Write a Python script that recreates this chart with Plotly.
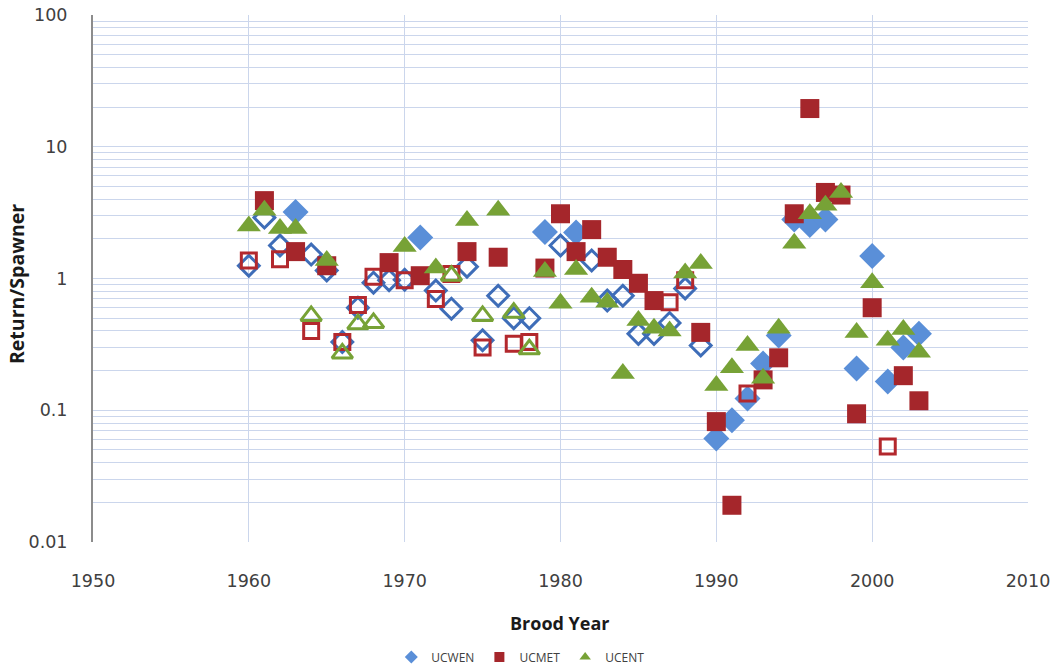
import plotly.graph_objects as go

# Brood year return/spawner ratios; "open" marks hollow (estimated) points
wen_years = [1960, 1961, 1962, 1963, 1964, 1965, 1966, 1967, 1968, 1969, 1970, 1971,
             1972, 1973, 1974, 1975, 1976, 1977, 1978, 1979, 1980, 1981, 1982, 1983,
             1984, 1985, 1986, 1987, 1988, 1989, 1990, 1991, 1992, 1993, 1994, 1995,
             1996, 1997, 1999, 2000, 2001, 2002, 2003]
wen_values = [1.25, 2.9, 1.78, 3.2, 1.52, 1.15, 0.33, 0.6, 0.93, 0.97, 0.98, 2.05,
              0.81, 0.59, 1.23, 0.34, 0.74, 0.50, 0.50, 2.25, 1.78, 2.23, 1.37, 0.68,
              0.74, 0.38, 0.38, 0.46, 0.84, 0.31, 0.061, 0.084, 0.123, 0.226, 0.37, 2.8,
              2.55, 2.8, 0.207, 1.48, 0.165, 0.30, 0.38]
wen_open = [1, 1, 1, 0, 1, 1, 1, 1, 1, 1, 1, 0,
            1, 1, 1, 1, 1, 1, 1, 0, 1, 0, 1, 1,
            1, 1, 1, 1, 1, 1, 0, 0, 0, 0, 0, 0,
            0, 0, 0, 0, 0, 0, 0]

met_years = [1960, 1961, 1962, 1963, 1964, 1965, 1966, 1967, 1968, 1969, 1970, 1971,
             1972, 1973, 1974, 1975, 1976, 1977, 1978, 1979, 1980, 1981, 1982, 1983,
             1984, 1985, 1986, 1987, 1988, 1989, 1990, 1991, 1992, 1993, 1994, 1995,
             1996, 1997, 1998, 1999, 2000, 2001, 2002, 2003]
met_values = [1.37, 3.9, 1.4, 1.6, 0.40, 1.25, 0.33, 0.63, 1.03, 1.32, 0.97, 1.05,
              0.70, 1.08, 1.6, 0.30, 1.45, 0.32, 0.33, 1.2, 3.1, 1.6, 2.35, 1.45,
              1.17, 0.92, 0.68, 0.66, 0.97, 0.39, 0.082, 0.019, 0.134, 0.17, 0.25, 3.1,
              19.5, 4.5, 4.3, 0.094, 0.60, 0.053, 0.183, 0.118]
met_open = [1, 0, 1, 0, 1, 0, 1, 1, 1, 0, 1, 0,
            1, 1, 0, 1, 0, 1, 1, 0, 0, 0, 0, 0,
            0, 0, 0, 1, 1, 0, 0, 0, 1, 0, 0, 0,
            0, 0, 0, 0, 0, 1, 0, 0]

ent_years = [1960, 1961, 1962, 1963, 1964, 1965, 1966, 1967, 1968, 1970,
             1972, 1973, 1974, 1975, 1976, 1977, 1978, 1979, 1980, 1981, 1982, 1983,
             1984, 1985, 1986, 1987, 1988, 1989, 1990, 1991, 1992, 1993, 1994, 1995,
             1996, 1997, 1998, 1999, 2000, 2001, 2002, 2003]
ent_values = [2.5, 3.3, 2.4, 2.4, 0.52, 1.37, 0.27, 0.45, 0.46, 1.75,
              1.2, 1.05, 2.75, 0.52, 3.3, 0.55, 0.29, 1.13, 0.65, 1.17, 0.72, 0.66,
              0.19, 0.48, 0.42, 0.40, 1.1, 1.3, 0.154, 0.21, 0.31, 0.175, 0.42, 1.85,
              3.1, 3.6, 4.5, 0.39, 0.93, 0.34, 0.41, 0.275]
ent_open = [0, 0, 0, 0, 1, 0, 1, 1, 1, 0,
            0, 1, 0, 1, 0, 1, 1, 0, 0, 0, 0, 0,
            0, 0, 0, 0, 0, 0, 0, 0, 0, 0, 0, 0,
            0, 0, 0, 0, 0, 0, 0, 0]

# name, years, values, hollow flags, symbol, fill colour, outline colour,
# filled size, hollow size
series = [
    ("UCWEN", wen_years, wen_values, wen_open, "diamond", "#5A8FD8", "#3E6DB8", 20, 16),
    ("UCMET", met_years, met_values, met_open, "square", "#A5262B", "#B3282D", 19, 15),
    ("UCENT", ent_years, ent_values, ent_open, "triangle-up", "#77A236", "#77A236", 21, 18),
]

fig = go.Figure()
for name, yrs, vals, opn, sym, fill, edge, size, osize in series:
    fx = [y for y, o in zip(yrs, opn) if not o]
    fy = [v for v, o in zip(vals, opn) if not o]
    ox = [y for y, o in zip(yrs, opn) if o]
    oy = [v for v, o in zip(vals, opn) if o]
    fig.add_trace(go.Scatter(
        x=ox, y=oy, mode="markers", name=name, showlegend=False,
        marker=dict(symbol=sym + "-open", size=osize, color=edge,
                    line=dict(width=3, color=edge))))
    fig.add_trace(go.Scatter(
        x=fx, y=fy, mode="markers", name=name, showlegend=False,
        marker=dict(symbol=sym, size=size, color=fill, line=dict(width=0))))

# small legend keys
for name, _, _, _, sym, fill, _, _, _ in series:
    fig.add_trace(go.Scatter(
        x=[None], y=[None], mode="markers", name=name, showlegend=True,
        marker=dict(symbol=sym, size=10, color=fill)))

grid = "#CBD6EC"
tick_font = dict(family="DejaVu Sans", size=17.5, color="#404040")
fig.update_layout(
    width=1053, height=666,
    margin=dict(l=93, r=25, t=15, b=124, autoexpand=False),
    paper_bgcolor="white", plot_bgcolor="white",
    showlegend=True,
    legend=dict(orientation="h", x=0.457, xanchor="center", y=-0.218, yanchor="middle",
                font=dict(family="Liberation Sans Narrow, Open Sans, sans-serif", size=12,
                          color="#404040"),
                itemwidth=30, tracegroupgap=0),
    xaxis=dict(range=[1950, 2010], dtick=10, tick0=1950, showgrid=True, gridcolor=grid,
               gridwidth=1, zeroline=False, showline=False, automargin=False,
               ticks="outside", ticklen=23, tickcolor="rgba(0,0,0,0)",
               tickfont=tick_font),
    yaxis=dict(type="log", range=[-2, 2], dtick=1, showgrid=True, gridcolor=grid,
               gridwidth=1, zeroline=False, showline=True, linecolor="#8C8C8C",
               linewidth=2, automargin=False, ticks="outside", ticklen=20,
               tickcolor="rgba(0,0,0,0)", tickfont=tick_font,
               minor=dict(dtick="D1", showgrid=True, gridcolor=grid, gridwidth=1)),
    annotations=[
        dict(text="<b>Return/Spawner</b>", textangle=-90, x=-0.081, xref="paper",
             xanchor="center", y=0.49, yref="paper", yanchor="middle", showarrow=False,
             font=dict(family="Liberation Sans Narrow, Open Sans, sans-serif", size=19.5,
                       color="#1a1a1a")),
        dict(text="<b>Brood Year</b>", x=0.499, xref="paper", xanchor="center",
             y=-0.153, yref="paper", yanchor="middle", showarrow=False,
             font=dict(family="Open Sans, sans-serif", size=18, color="#1a1a1a")),
    ],
    shapes=[dict(type="line", xref="paper", x0=0, x1=1, yref="y", y0=0, y1=0,
                 line=dict(color="#8C8C8C", width=2.5), layer="below")],
)

fig.write_html("out.html")
